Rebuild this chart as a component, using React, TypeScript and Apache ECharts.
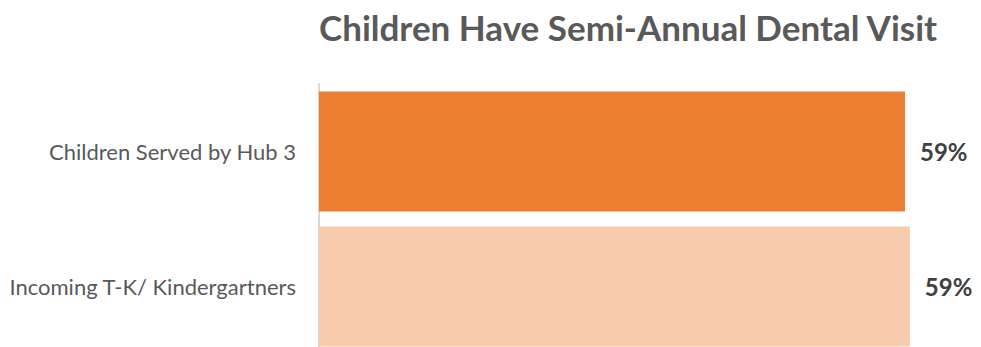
import React, { useEffect, useRef } from "react";
import * as echarts from "echarts";

const titleText = "Children Have Semi-Annual Dental Visit";
const categories = ["Children Served by Hub 3", "Incoming T-K/ Kindergartners"];
const values = [0.59, 0.5949];
const barColors = ["#ED7D31", "#F8CBAD"];

export default function App() {
  const ref = useRef<HTMLDivElement>(null);
  useEffect(() => {
    if (!ref.current) return;
    const chart = echarts.init(ref.current, null, { renderer: "svg" });
    chart.setOption({
      animation: false,
      backgroundColor: "#ffffff",
      title: {
        text: titleText,
        left: 314,
        top: 4,
        textStyle: {
          fontFamily: "Lato",
          fontWeight: "bold",
          fontSize: 35,
          color: "#595959",
        },
      },
      grid: { left: 319, top: 84, width: 645.6, height: 270, containLabel: false },
      xAxis: {
        type: "value",
        min: 0,
        max: 0.65,
        show: false,
      },
      yAxis: {
        type: "category",
        inverse: true,
        data: categories,
        axisLine: { show: true, lineStyle: { color: "#D9D9D9", width: 2 } },
        axisTick: { show: false },
        axisLabel: {
          margin: 23,
          fontFamily: "Lato",
          fontSize: 22,
          color: "#595959",
        },
      },
      series: [
        {
          type: "bar",
          barCategoryGap: "11%",
          data: values.map((v, i) => ({ value: v, itemStyle: { color: barColors[i] } })),
          label: {
            show: true,
            position: "right",
            distance: 15,
            fontFamily: "Lato",
            fontWeight: "bold",
            fontSize: 24,
            color: "#404040",
            formatter: (p: any) => Math.round(p.value * 100) + "%",
          },
        },
      ],
    });
    return () => chart.dispose();
  }, []);
  return (
    <div
      ref={ref}
      style={{ position: "absolute", left: 0, top: 0, width: 981, height: 354 }}
    />
  );
}
